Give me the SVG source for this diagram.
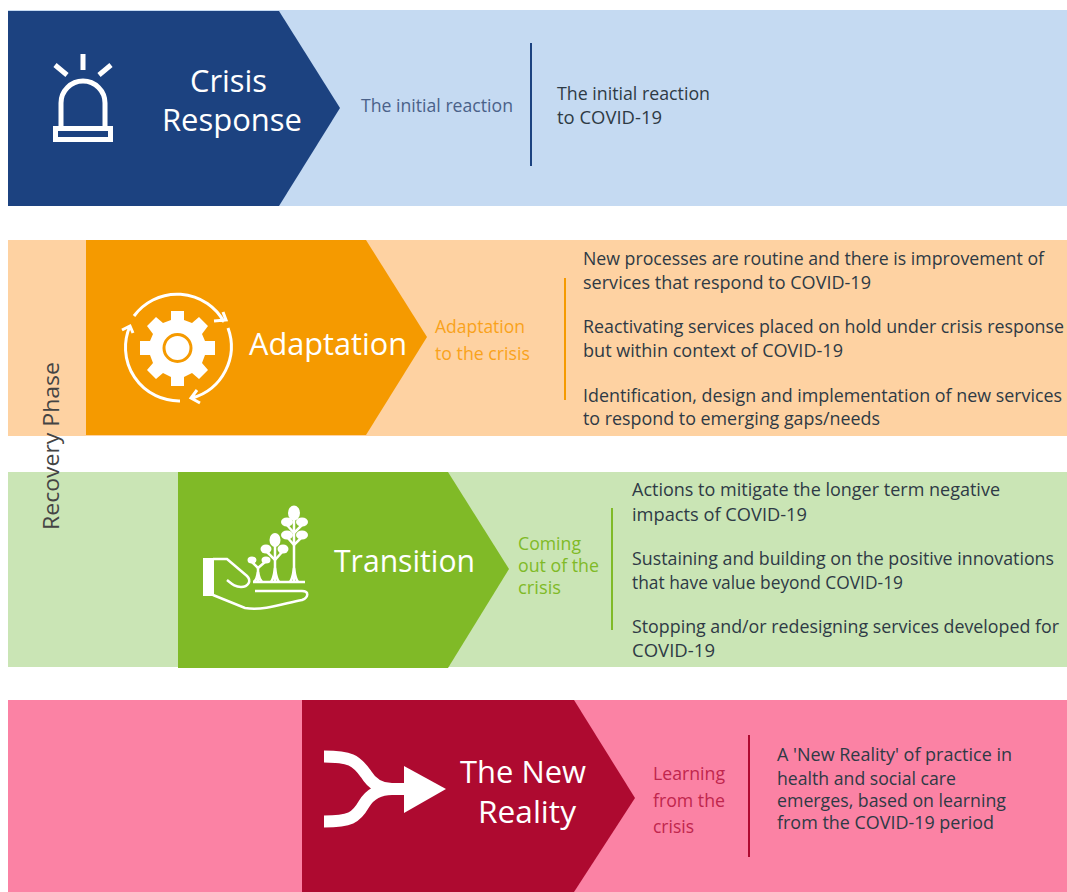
<svg xmlns="http://www.w3.org/2000/svg" width="1067" height="892" viewBox="0 0 1067 892">
<style>
text{font-family:"Open Sans","Noto Sans","Liberation Sans",sans-serif;font-size:17.5px;fill:#2e3a45}
.h{font-size:31px;fill:#fff;font-weight:500}
.ic{fill:none;stroke:#fff;stroke-linecap:butt;stroke-linejoin:miter}
.wf{fill:#fff;stroke:none}
.navy{fill:#4a6189}.org{fill:#f9a21b}.grn{fill:#80ba27}.red{fill:#c0264d}
</style>
<rect width="1067" height="892" fill="#fff"/>
<g id="crisis-response">
<rect x="8" y="10" width="1059" height="196" fill="#c5daf2"/>
<polygon points="8,11 279,11 340,108 279,206 8,206" fill="#1c4280"/>
<g class="ic" stroke-width="5">
<path d="M61,127V103A22,22 0 0 1 105,103V127"/>
<rect x="55.500" y="128.500" width="55" height="11"/>
<path d="M83,54V70M55,65L67,75M111,65L99,75"/>
</g>
<text class="h" x="190" y="92" textLength="77" lengthAdjust="spacingAndGlyphs">Crisis</text>
<text class="h" x="162" y="131" textLength="140" lengthAdjust="spacingAndGlyphs">Response</text>
<text class="navy" x="361" y="112" textLength="152" lengthAdjust="spacingAndGlyphs">The initial reaction</text>
<rect x="530" y="43" width="2" height="123" fill="#1c4280"/>
<text x="557" y="100" textLength="153" lengthAdjust="spacingAndGlyphs">The initial reaction</text>
<text x="557" y="124" textLength="105" lengthAdjust="spacingAndGlyphs">to COVID-19</text>
</g>
<g id="adaptation">
<rect x="8" y="240" width="1059" height="196" fill="#fed2a2"/>
<polygon points="86,240 366,240 427,337 366,435 86,435" fill="#f59a00"/>
<g class="ic" stroke-width="3">
<path d="M134,316A53.500,53.500 0 0 1 224,322M214,321L226,320L223,312"/>
<path d="M228,328A53.500,53.500 0 0 1 192,398M200,403L191,398L197,390"/>
<path d="M180,401A53.500,53.500 0 0 1 130,326M122,330L130,326L133,333"/>
</g>
<g id="gear">
<path class="wf" d="M171,311H184V320L192,323L199,317L208,326L202,334L205,341H215V355H205L202,363L208,370L199,379L192,373L184,377V386H171V377L163,373L156,379L147,370L153,363L150,355H140V341H150L153,334L147,326L156,317L163,323L171,320Z"/>
<circle cx="177.500" cy="348" r="13.500" fill="none" stroke="#f59a00" stroke-width="3"/>
</g>
<text class="h" x="249" y="355" textLength="158" lengthAdjust="spacingAndGlyphs">Adaptation</text>
<text class="org" x="435" y="333" textLength="90" lengthAdjust="spacingAndGlyphs">Adaptation</text>
<text class="org" x="435" y="360" textLength="95" lengthAdjust="spacingAndGlyphs">to the crisis</text>
<rect x="564" y="278" width="2" height="122" fill="#f59a00"/>
<text x="583" y="265" textLength="461" lengthAdjust="spacingAndGlyphs">New processes are routine and there is improvement of</text>
<text x="583" y="289" textLength="288" lengthAdjust="spacingAndGlyphs">services that respond to COVID-19</text>
<text x="583" y="333" textLength="481" lengthAdjust="spacingAndGlyphs">Reactivating services placed on hold under crisis response</text>
<text x="583" y="357" textLength="260" lengthAdjust="spacingAndGlyphs">but within context of COVID-19</text>
<text x="583" y="402" textLength="479" lengthAdjust="spacingAndGlyphs">Identification, design and implementation of new services</text>
<text x="583" y="425" textLength="297" lengthAdjust="spacingAndGlyphs">to respond to emerging gaps/needs</text>
</g>
<g id="transition">
<rect x="8" y="472" width="1059" height="195" fill="#cae5b5"/>
<polygon points="178,472 448,472 509,569 448,668 178,668" fill="#80ba27"/>
<g id="plant-hand">
<path class="wf" d="M203,558H214V596H203Z"/>
<g class="ic" stroke-width="2.500">
<path d="M213,559H227L247,576C252,581 248,587 241,587C235,587 232,584 227,580"/>
<path d="M213,595L245,608C265,611 285,603 302,600C309,597 309,591 302,591H255"/>
<path d="M253,582H305"/>
<path d="M294,582V518M275,582V545M258,582V568"/>
<path d="M290,582C293,578 293,574 294,568C295,574 295,578 298,582M271,582C274,578 274,574 275,568C276,574 276,578 279,582M254,582C257,579 257,576 258,572C259,576 259,579 262,582"/>
<path d="M252,562L258,568L265,562M266,551L275,560L283,551M287,525L294,533L302,525M287,537L294,545L302,537"/>
</g>
<g class="wf">
<ellipse cx="294" cy="513" rx="6" ry="7.500"/>
<ellipse cx="287" cy="522" rx="6" ry="4.500"/><ellipse cx="302" cy="522" rx="6" ry="4.500"/>
<ellipse cx="287" cy="535" rx="6" ry="4.500"/><ellipse cx="302" cy="535" rx="6" ry="4.500"/>
<ellipse cx="275" cy="540" rx="5.500" ry="7"/>
<ellipse cx="266" cy="549" rx="5.500" ry="4.500"/><ellipse cx="283" cy="549" rx="5.500" ry="4.500"/>
<ellipse cx="252" cy="560" rx="4.500" ry="3.500"/><ellipse cx="266" cy="560" rx="4.500" ry="3.500"/>
</g>
</g>
<text class="h" x="334" y="572" textLength="141" lengthAdjust="spacingAndGlyphs">Transition</text>
<text class="grn" x="518" y="550" textLength="63" lengthAdjust="spacingAndGlyphs">Coming</text>
<text class="grn" x="518" y="572" textLength="81" lengthAdjust="spacingAndGlyphs">out of the</text>
<text class="grn" x="518" y="594" textLength="43" lengthAdjust="spacingAndGlyphs">crisis</text>
<rect x="611" y="508" width="2" height="122" fill="#80ba27"/>
<text x="632" y="496" textLength="368" lengthAdjust="spacingAndGlyphs">Actions to mitigate the longer term negative</text>
<text x="632" y="521" textLength="175" lengthAdjust="spacingAndGlyphs">impacts of COVID-19</text>
<text x="632" y="565" textLength="422" lengthAdjust="spacingAndGlyphs">Sustaining and building on the positive innovations</text>
<text x="632" y="589" textLength="271" lengthAdjust="spacingAndGlyphs">that have value beyond COVID-19</text>
<text x="632" y="633" textLength="427" lengthAdjust="spacingAndGlyphs">Stopping and/or redesigning services developed for</text>
<text x="632" y="657" textLength="83" lengthAdjust="spacingAndGlyphs">COVID-19</text>
</g>
<g id="new-reality">
<rect x="8" y="700" width="1059" height="192" fill="#fb82a4"/>
<polygon points="302,700 574,700 635,798 574,892 302,892" fill="#ae0a30"/>
<path class="ic" stroke-width="12" d="M324,756.500C350,756.500 356,760 366,774C372,784 380,789 392,789H410M324,821.500C350,821.500 356,818 364,804C370,794 380,789 392,789"/>
<polygon class="wf" points="404,766 446,789 404,813"/>
<text class="h" x="460" y="783" textLength="126" lengthAdjust="spacingAndGlyphs">The New</text>
<text class="h" x="478" y="823" textLength="98" lengthAdjust="spacingAndGlyphs">Reality</text>
<text class="red" x="653" y="780" textLength="72" lengthAdjust="spacingAndGlyphs">Learning</text>
<text class="red" x="653" y="807" textLength="72" lengthAdjust="spacingAndGlyphs">from the</text>
<text class="red" x="653" y="833" textLength="41" lengthAdjust="spacingAndGlyphs">crisis</text>
<rect x="748" y="735" width="2" height="122" fill="#ae0a30"/>
<text x="777" y="761" textLength="235" lengthAdjust="spacingAndGlyphs">A 'New Reality' of practice in</text>
<text x="777" y="785" textLength="179" lengthAdjust="spacingAndGlyphs">health and social care</text>
<text x="777" y="807" textLength="229" lengthAdjust="spacingAndGlyphs">emerges, based on learning</text>
<text x="777" y="829" textLength="217" lengthAdjust="spacingAndGlyphs">from the COVID-19 period</text>
</g>
<g id="recovery-phase">
<text transform="translate(59,530) rotate(-90)" textLength="168" lengthAdjust="spacingAndGlyphs" style="font-size:21px;fill:#444">Recovery Phase</text>
</g>
</svg>
